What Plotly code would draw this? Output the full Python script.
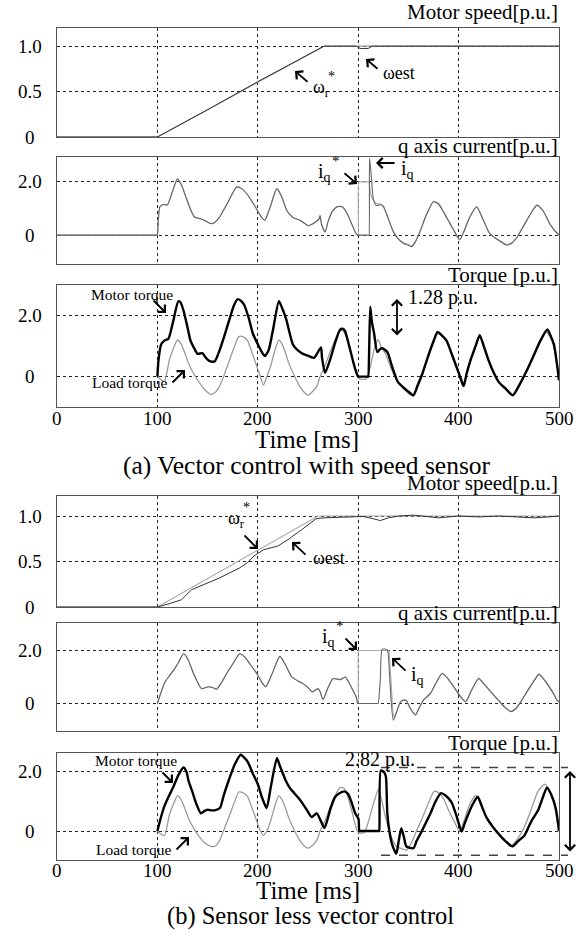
import plotly.graph_objects as go

W, H = 581, 936
FONT = "Liberation Serif, Times New Roman, serif"

# ---------------- data (time in ms) ----------------
# (a) Vector control with speed sensor
spd_a_ref_t = [0, 100, 266, 500]
spd_a_ref_v = [0, 0, 1.0, 1.0]
spd_a_est_t = [0, 100, 150, 200, 266, 298, 302, 310, 314, 350, 400, 450, 480, 500]
spd_a_est_v = [0, 0, 0.30, 0.61, 1.0, 1.0, 0.975, 0.975, 1.0, 1.0, 0.995, 1.0, 0.995, 1.0]

iq_a_t = [0, 99.8, 100, 101, 102.5, 106, 110, 114, 120, 124, 128, 133, 137, 141, 145, 150, 154, 158, 162, 170, 179,
          184, 189, 194, 199, 204, 207, 212, 219, 224, 229, 235, 242, 246, 250, 256, 261, 262, 263.5, 267, 270,
          274, 279, 284, 289, 294, 298, 300, 300.3, 310.5, 310.8, 311.3, 313, 315, 318, 322, 325, 330, 335, 340, 345, 350,
          353, 357, 361.5, 368, 375, 380, 385, 391, 396, 401, 405, 411, 418, 424, 431, 438, 448, 453, 458,
          465, 472, 478, 484, 491, 496, 500]
iq_a_v = [0, 0, 0, 0.6, 1.05, 1.13, 1.12, 1.5, 2.08, 1.85, 1.45, 0.95, 0.67, 0.62, 0.58, 0.48, 0.42, 0.5, 0.67, 1.2, 1.78,
          1.72, 1.53, 1.25, 0.95, 0.65, 0.55, 1.0, 1.72, 1.4, 0.9, 0.65, 0.55, 0.45, 0.35, 0.45, 0.6, 0.72, 0.4, 0.12, 0.5,
          0.86, 1.05, 1.05, 0.8, 0.37, 0.05, 0, 0, 0, 0, 2.85, 2.2, 1.35, 1.1, 1.12, 1.05, 0.6, 0.12, -0.15, -0.3, -0.38,
          -0.43, -0.25, 0.12, 0.75, 1.23, 1.15, 0.85, 0.45, 0.12, -0.18, 0.1, 0.65, 1.04, 0.6, 0.05, -0.15, -0.37, -0.3, -0.1,
          0.35, 0.8, 1.1, 0.9, 0.4, 0.15, 0.0]
iqref_a_t = [0, 99.8, 100, 101, 102.5, 106, 110, 114, 120, 124, 128, 133, 137, 141, 145, 150, 154, 158, 162, 170, 179,
             184, 189, 194, 199, 204, 207, 212, 219, 224, 229, 235, 242, 246, 250, 256, 261, 262, 263.5, 267, 270,
             274, 279, 284, 289, 294, 298, 299.8, 300, 300.3, 300.6, 310.5, 310.8, 312.5, 315, 318, 322, 325, 330, 335, 340, 345, 350,
             353, 357, 361.5, 368, 375, 380, 385, 391, 396, 401, 405, 411, 418, 424, 431, 438, 448, 453, 458,
             465, 472, 478, 484, 491, 496, 500]
iqref_a_v = [0, 0, 0, 0.6, 1.05, 1.13, 1.12, 1.5, 2.08, 1.85, 1.45, 0.95, 0.67, 0.62, 0.58, 0.48, 0.42, 0.5, 0.67, 1.2, 1.78,
             1.72, 1.53, 1.25, 0.95, 0.65, 0.55, 1.0, 1.72, 1.4, 0.9, 0.65, 0.55, 0.45, 0.35, 0.45, 0.6, 0.72, 0.4, 0.12, 0.5,
             0.86, 1.05, 1.05, 0.8, 0.37, 0.05, 0, 0, 1.97, 1.97, 1.97, 1.97, 1.5, 1.3, 1.18, 1.15, 1.08, 0.62, 0.14, -0.13, -0.28, -0.36,
             -0.41, -0.23, 0.14, 0.77, 1.25, 1.17, 0.87, 0.47, 0.14, -0.16, 0.12, 0.67, 1.06, 0.62, 0.07, -0.13, -0.35, -0.28, -0.08,
             0.37, 0.82, 1.12, 0.92, 0.42, 0.17, 0.02]

tm_a_t = [100, 101, 103.7, 107, 111, 115.6, 120.8, 123, 126, 130, 133, 137, 140, 145, 148, 152, 157, 162, 166,
          171, 176, 180, 183, 186.5, 191, 195, 200, 204, 207, 210.8, 215, 221, 224, 228, 235, 240, 245, 250, 256,
          261, 263, 264, 267, 272, 277, 282, 285, 287, 291, 294, 297, 300, 300.3, 309.7, 310, 311, 312, 313.5, 315.8, 319, 322,
          324, 329, 334, 339.6, 345, 350, 355, 359, 363.5, 370, 375, 379, 383, 388, 393, 398, 402, 405, 408, 412,
          417, 421, 425, 429.6, 434, 440, 447, 454, 460, 467.7, 475, 481.5, 488.4, 492, 495, 498, 500]
tm_a_v = [0, 0.5, 1.04, 1.17, 1.23, 1.78, 2.45, 2.42, 2.15, 1.6, 1.17, 0.9, 0.74, 0.76, 0.62, 0.5, 0.49, 0.86, 1.25,
          1.78, 2.3, 2.52, 2.47, 2.33, 1.9, 1.41, 1.05, 0.8, 0.67, 0.86, 1.5, 2.45, 2.25, 1.9, 1.04, 0.85, 0.74, 0.68, 0.61,
          0.86, 0.95, 0.6, 0.12, 0.55, 1.1, 1.53, 1.55, 1.47, 1.0, 0.61, 0.25, 0.0, 0.0, 0.0, 0.0, 1.0, 2.27, 1.8, 1.41, 0.8, 0.9,
          0.92, 0.8, 0.3, -0.18, -0.35, -0.49, -0.61, -0.3, 0.06, 0.7, 1.15, 1.45, 1.35, 1.17, 0.75, 0.31, -0.05, -0.31, 0.1, 0.55,
          1.0, 1.35, 1.0, 0.55, 0.2, -0.18, -0.4, -0.61, -0.3, 0.18, 0.7, 1.17, 1.53, 1.3, 1.04, 0.4, -0.12]

tl_a_t = [100, 102, 107, 112, 117, 120, 123, 127, 131, 136, 141.5, 147, 153.5, 158, 162, 167, 172, 177, 181,
          185, 189.7, 194, 198, 202, 205.6, 209, 212.5, 217, 221, 225, 231, 236, 241.6, 246, 250, 254, 258.8, 262, 266.4,
          272, 277, 282, 286, 291, 295, 299, 302, 308, 312, 316, 320, 323, 327, 333, 340, 345, 350, 355, 360,
          364, 370, 375, 379, 384, 389, 394, 399, 404, 408, 413, 417, 421, 425, 430, 435, 441, 448, 454, 460,
          467, 474, 481, 487, 491, 495, 498, 500]
tl_a_v = [0, -0.06, -0.16, 0.55, 1.0, 1.19, 1.1, 0.8, 0.43, 0.1, -0.18, -0.42, -0.58, -0.5, -0.31, 0.1, 0.55, 1.0, 1.3,
          1.3, 1.17, 0.8, 0.43, 0.05, -0.28, 0.0, 0.31, 0.85, 1.19, 1.0, 0.43, 0.05, -0.31, -0.5, -0.61, -0.5, -0.31, 0.0, 0.31,
          0.8, 1.2, 1.5, 1.45, 1.0, 0.5, 0.0, -0.08, -0.08, 0.3, 0.9, 1.2, 0.95, 0.75, 0.25, -0.2, -0.4, -0.55, -0.62, -0.3,
          0.06, 0.65, 1.1, 1.4, 1.3, 1.1, 0.6, 0.2, -0.3, 0.05, 0.6, 1.0, 1.3, 0.95, 0.5, 0.1, -0.2, -0.42, -0.58, -0.35,
          0.15, 0.65, 1.15, 1.45, 1.3, 0.95, 0.4, -0.1]

# (b) Sensor less vector control
spd_b_ref_t = [0, 100, 260, 500]
spd_b_ref_v = [0, 0, 1.0, 1.0]
spd_b_est_t = [0, 100, 110, 124, 134, 150, 162, 182, 190, 196, 206, 220, 230, 245, 258, 266, 280, 300, 305, 315, 322,
               330, 340, 355, 370, 380, 400, 420, 440, 460, 475, 490, 500]
spd_b_est_v = [0, 0, 0.03, 0.08, 0.19, 0.26, 0.32, 0.43, 0.49, 0.56, 0.63, 0.67, 0.74, 0.86, 0.97, 0.98, 0.985, 1.0,
               0.995, 0.97, 0.95, 0.98, 1.0, 1.01, 0.99, 0.98, 1.0, 0.99, 1.0, 0.99, 0.98, 0.99, 1.0]

iq_b_t = [100, 103, 107.5, 112, 116, 121, 126, 130, 136, 140, 144, 148, 151, 155, 159, 164, 169, 176, 182,
          187, 192, 199, 204, 208, 214, 222, 227, 234, 240, 245, 250, 254, 257, 260, 262, 265, 270, 275, 279,
          282, 287, 290, 294, 298, 299.5, 299.8, 319.7, 320, 322, 324, 329, 331, 333, 335, 338, 342, 345, 348, 352, 357, 361,
          365, 372, 378, 383.6, 389, 395, 401, 407, 413, 420, 426, 432, 440, 446, 452, 457, 462, 470, 476, 480,
          484, 488, 494, 498, 500]
iq_b_v = [0, 0.35, 0.81, 1.05, 1.25, 1.55, 1.88, 1.7, 1.13, 0.8, 0.56, 0.6, 0.63, 0.6, 0.54, 0.8, 1.13, 1.55, 1.88,
          1.75, 1.5, 1.13, 0.8, 0.63, 1.1, 1.78, 1.5, 1.0, 0.85, 0.75, 0.6, 0.44, 0.5, 0.56, 0.45, 0.15, 0.6, 0.94, 0.92,
          0.9, 1.0, 0.85, 0.55, 0.25, 0, 0, 0, 0, 0.9, 2.05, 2.02, 1.2, 0, -0.63, -0.35, 0.05, 0.12, 0.1, -0.2, -0.44, -0.15,
          0.12, 0.38, 0.8, 1.13, 0.95, 0.63, 0.3, 0.06, 0.5, 0.94, 0.7, 0.44, 0.1, -0.15, -0.31, -0.2, 0.06, 0.55, 0.9, 1.1,
          0.95, 0.75, 0.4, 0.12, 0.05]
iqref_b_t = [100, 103, 107.5, 112, 116, 121, 126, 130, 136, 140, 144, 148, 151, 155, 159, 164, 169, 176, 182,
             187, 192, 199, 204, 208, 214, 222, 227, 234, 240, 245, 250, 254, 257, 260, 262, 265, 270, 275, 279,
             282, 287, 290, 294, 298, 299.5, 299.8, 300, 300.2, 300.5, 330.2, 330.5, 332.5, 335.5, 338, 342, 345, 348, 352, 357, 361,
             365, 372, 378, 383.6, 389, 395, 401, 407, 413, 420, 426, 432, 440, 446, 452, 457, 462, 470, 476, 480,
             484, 488, 494, 498, 500]
iqref_b_v = [0, 0.35, 0.81, 1.05, 1.25, 1.55, 1.88, 1.7, 1.13, 0.8, 0.56, 0.6, 0.63, 0.6, 0.54, 0.8, 1.13, 1.55, 1.88,
             1.75, 1.5, 1.13, 0.8, 0.63, 1.1, 1.78, 1.5, 1.0, 0.85, 0.75, 0.6, 0.44, 0.5, 0.56, 0.45, 0.15, 0.6, 0.94, 0.92,
             0.9, 1.0, 0.85, 0.55, 0.25, 0, 0, 0, 2.0, 2.0, 2.0, 2.0, 1.0, -0.5, -0.33, 0.07, 0.14, 0.12, -0.18, -0.42, -0.13,
             0.14, 0.4, 0.82, 1.15, 0.97, 0.65, 0.32, 0.08, 0.52, 0.96, 0.72, 0.46, 0.12, -0.13, -0.29, -0.18, 0.08, 0.57, 0.92, 1.12,
             0.97, 0.77, 0.42, 0.14, 0.07]

tm_b_t = [100, 103, 107, 111, 115.6, 121, 126, 129, 131, 134.7, 139, 143.3, 147, 150, 154, 157, 162.3, 166, 171,
          177, 183, 186, 190, 195, 200, 204, 208.8, 213, 219, 222, 227.8, 232, 236.4, 241, 245, 250, 253.7, 258.8, 262,
          266.4, 272.6, 277, 281.3, 286.5, 290, 293.4, 297, 300.3, 301, 301.3, 320.7, 321, 322.5, 326, 327.6, 329, 331.5, 334.4, 338, 340.5, 343,
          345.5, 348, 355, 358, 362, 367, 372, 377, 382.5, 387, 393, 398, 403, 406, 410, 414, 419, 423, 427.6, 434,
          441.4, 447, 453.5, 459, 465.6, 472, 479.4, 484, 488, 492, 496.7, 500]
tm_b_v = [0, 0.4, 0.84, 1.15, 1.47, 1.9, 2.15, 2.0, 1.7, 1.34, 0.9, 0.6, 0.68, 0.72, 0.7, 0.7, 0.78, 1.2, 1.71,
          2.25, 2.58, 2.5, 2.34, 1.95, 1.59, 1.15, 0.78, 1.5, 2.46, 2.2, 1.71, 1.45, 1.28, 1.1, 0.91, 0.65, 0.47, 0.6, 0.4,
          0.1, 0.78, 1.15, 1.28, 1.34, 1.25, 0.97, 0.6, 0.41, 0.0, 0.0, 0.0, 0.0, 2.05, 1.98, 1.84, 0.6, -0.1, -0.52, -0.77, -0.3, 0.1,
          -0.2, -0.52, -0.58, -0.35, -0.09, 0.25, 0.6, 1.0, 1.28, 1.2, 0.97, 0.5, -0.02, 0.25, 0.6, 0.9, 1.16, 0.85, 0.47, 0.15,
          -0.15, -0.35, -0.52, -0.35, -0.15, 0.3, 0.72, 1.15, 1.47, 1.25, 0.78, 0.0]

tl_b_t = [100, 102, 107, 112, 117, 120, 123, 127, 131, 136, 141.5, 147, 153.5, 158, 162, 167, 172, 177, 181,
          185, 189.7, 194, 198, 202, 205.6, 209, 212.5, 217, 221, 225, 231, 236, 241.6, 246, 250, 254, 258.8, 262, 266.4,
          272, 277, 282, 286, 291, 295, 299, 301, 306, 310, 315, 320, 323, 327, 333, 338, 344, 348, 353, 358,
          364, 370, 375.6, 380, 385, 390, 396, 401, 406, 411, 417, 421, 427, 433, 440, 446, 451.8, 458, 465, 472,
          479, 486, 490, 495, 500]
tl_b_v = [0, -0.06, -0.16, 0.55, 1.0, 1.2, 1.1, 0.8, 0.43, 0.1, -0.18, -0.4, -0.52, -0.5, -0.31, 0.1, 0.55, 1.0, 1.32,
          1.3, 1.17, 0.8, 0.43, 0.05, -0.15, 0.0, 0.31, 0.85, 1.2, 1.0, 0.43, 0.05, -0.31, -0.5, -0.58, -0.5, -0.31, 0.0, 0.31,
          0.8, 1.2, 1.47, 1.45, 1.0, 0.5, 0.0, -0.06, -0.06, 0.3, 0.9, 1.4, 1.1, 0.5, -0.2, -0.52, -0.6, -0.65, -0.4, 0.0,
          0.45, 0.95, 1.34, 1.3, 1.1, 0.7, 0.3, 0.0, 0.4, 0.9, 1.2, 1.0, 0.5, 0.15, -0.15, -0.35, -0.52, -0.3, 0.1, 0.7,
          1.34, 1.59, 1.4, 0.9, 0.0]

x_ticks = [0, 100, 200, 300, 400, 500]
x_ticklabels = ["0", "100", "200", "300", "400", "500"]
spd_ticks = [0, 0.5, 1.0]
spd_ticklabels = ["0", "0.5", "1.0"]
cur_ticks = [0, 2.0]
cur_ticklabels = ["0", "2.0"]

# ---------------- layout helpers ----------------
def px(x):
    return x / W

def py(y):
    return 1 - y / H

# (top px, bottom px, y-range, ticks, ticklabels, title, title y px, x-ticklabel y px or None)
panels = [
    (28, 137, [0, 1.2], spd_ticks, spd_ticklabels, "Motor speed[p.u.]", 12, None),
    (157, 264, [-1.07, 2.89], cur_ticks, cur_ticklabels, "q axis current[p.u.]", 146, None),
    (285, 407, [-0.99, 2.98], cur_ticks, cur_ticklabels, "Torque [p.u.]", 275, 419),
    (496, 607, [0, 1.22], spd_ticks, spd_ticklabels, "Motor speed[p.u.]", 483, None),
    (623, 731, [-1.04, 3.04], cur_ticks, cur_ticklabels, "q axis current[p.u.]", 613, None),
    (753, 860, [-0.98, 2.64], cur_ticks, cur_ticklabels, "Torque [p.u.]", 743, 870),
]

fig = go.Figure()

def add(i, t, v, color, width, shape="linear"):
    fig.add_trace(go.Scatter(x=t, y=v, mode="lines",
                             line=dict(color=color, width=width, shape=shape,
                                       smoothing=0.6 if shape == "spline" else None),
                             xaxis="x" if i == 1 else f"x{i}", yaxis="y" if i == 1 else f"y{i}",
                             showlegend=False, hoverinfo="skip"))

add(1, spd_a_ref_t, spd_a_ref_v, "#9a9a9a", 1.1)
add(1, spd_a_est_t, spd_a_est_v, "#333333", 1.0)
add(2, iqref_a_t, iqref_a_v, "#aaaaaa", 1.1, "spline")
add(2, iq_a_t, iq_a_v, "#666666", 1.1, "spline")
add(3, tl_a_t, tl_a_v, "#9a9a9a", 1.3, "spline")
add(3, tm_a_t, tm_a_v, "#000000", 2.4, "spline")
add(4, spd_b_ref_t, spd_b_ref_v, "#aaaaaa", 1.1)
add(4, spd_b_est_t, spd_b_est_v, "#333333", 1.0)
add(5, iqref_b_t, iqref_b_v, "#aaaaaa", 1.1, "spline")
add(5, iq_b_t, iq_b_v, "#666666", 1.1, "spline")
add(6, tl_b_t, tl_b_v, "#9a9a9a", 1.3, "spline")
add(6, tm_b_t, tm_b_v, "#000000", 2.4, "spline")

layout = dict(width=W, height=H, autosize=False, margin=dict(l=0, r=0, t=0, b=0, pad=0),
              paper_bgcolor="white", plot_bgcolor="white",
              font=dict(family=FONT, color="black"), showlegend=False)

annotations = []
shapes = []

for k, (top, bot, yr, yt, ytl, title, ty, xly) in enumerate(panels, start=1):
    xname = "xaxis" if k == 1 else f"xaxis{k}"
    yname = "yaxis" if k == 1 else f"yaxis{k}"
    xref = "x" if k == 1 else f"x{k}"
    yref = "y" if k == 1 else f"y{k}"
    layout[xname] = dict(domain=[px(57), px(559)], range=[0, 500], anchor=yref,
                         tickvals=x_ticks, showticklabels=False, ticks="",
                         showgrid=True, gridcolor="#222222", griddash="dot", gridwidth=1,
                         zeroline=False, showline=True, mirror=True, linecolor="#555555", linewidth=1)
    layout[yname] = dict(domain=[py(bot), py(top)], range=yr,
                         anchor=xref,
                         tickvals=yt, showticklabels=False, ticks="",
                         showgrid=True, gridcolor="#222222", griddash="dot", gridwidth=1,
                         zeroline=False, showline=True, mirror=True, linecolor="#555555", linewidth=1)
    for v, lab in zip(yt, ytl):
        annotations.append(dict(x=px(30), xref="paper", y=v, yref=yref, text=lab, showarrow=False,
                                xanchor="center", yanchor="middle", font=dict(size=19)))
    if xly is not None:
        for v, lab in zip(x_ticks, x_ticklabels):
            annotations.append(dict(x=v, xref=xref, y=py(xly), yref="paper", text=lab, showarrow=False,
                                    xanchor="center", yanchor="middle", font=dict(size=19)))
    annotations.append(dict(x=px(560), y=py(ty), xref="paper", yref="paper", text=title, showarrow=False,
                            xanchor="right", yanchor="middle", font=dict(size=21)))

def text(x, y, s, size, anchor="center"):
    annotations.append(dict(x=px(x), y=py(y), xref="paper", yref="paper", text=s, showarrow=False,
                            xanchor=anchor, yanchor="middle", font=dict(size=size)))

def arrow(hx, hy, tx, ty, both=False):
    annotations.append(dict(x=px(hx), y=py(hy), xref="paper", yref="paper", text="", showarrow=True,
                            ax=tx - hx, ay=ty - hy, axref="pixel", ayref="pixel",
                            arrowhead=4, startarrowhead=4, arrowsize=1.1, arrowwidth=1.8, arrowcolor="black",
                            arrowside="end+start" if both else "end", standoff=0, startstandoff=0))

# axis titles / captions
text(307, 439, "Time [ms]", 25)
text(307, 465, "(a) Vector control with speed sensor", 25.5)
text(308, 890, "Time [ms]", 25)
text(310, 916, "(b) Sensor less vector control", 24.5)

# (a) speed
arrow(295, 71, 309, 83)
text(311, 88, "ω<sub>r</sub>", 18, "left")
text(326, 76, "*", 14, "left")
arrow(366, 59, 379, 70)
text(381, 73, "ωest", 18, "left")
# (a) current
text(333, 172, "i<sub>q</sub>", 20, "right")
text(330, 161, "*", 15, "left")
arrow(357, 184, 343, 172)
arrow(376, 163, 396, 163)
text(399, 169, "i<sub>q</sub>", 20, "left")
# (a) torque
text(132, 294, "Motor torque", 15.5)
arrow(166, 313, 152, 299)
text(443, 297, "1.28 p.u.", 20)
arrow(397, 299, 397, 337, both=True)
text(129, 382, "Load torque", 15.5)
arrow(185, 370, 171, 384)
# (b) speed
text(226, 519, "ω<sub>r</sub>", 18, "left")
text(241, 508, "*", 14, "left")
arrow(258, 549, 243, 534)
arrow(292, 542, 307, 556)
text(311, 558, "ωest", 18, "left")
# (b) current
text(337, 637, "i<sub>q</sub>", 20, "right")
text(334, 626, "*", 15, "left")
arrow(357, 650, 344, 637)
arrow(392, 658, 407, 672)
text(409, 675, "i<sub>q</sub>", 20, "left")
# (b) torque
text(136, 760, "Motor torque", 15.5)
arrow(173, 783, 161, 771)
text(380, 759, "2.82 p.u.", 20)
text(133, 849, "Load torque", 15.5)
arrow(189, 837, 175, 851)
arrow(570, 771, 570, 853, both=True)
for yv in (2.15, -0.82):
    shapes.append(dict(type="line", xref="paper", yref="y6", x0=px(381), x1=px(568), y0=yv, y1=yv,
                       line=dict(color="#444444", width=1.3, dash="dash")))

layout["annotations"] = annotations
layout["shapes"] = shapes
fig.update_layout(**layout)
fig.write_html("out.html",
               config={"responsive": False, "displayModeBar": False, "staticPlot": True},
               post_script="document.body.style.margin='0';document.body.style.overflow='hidden';")
